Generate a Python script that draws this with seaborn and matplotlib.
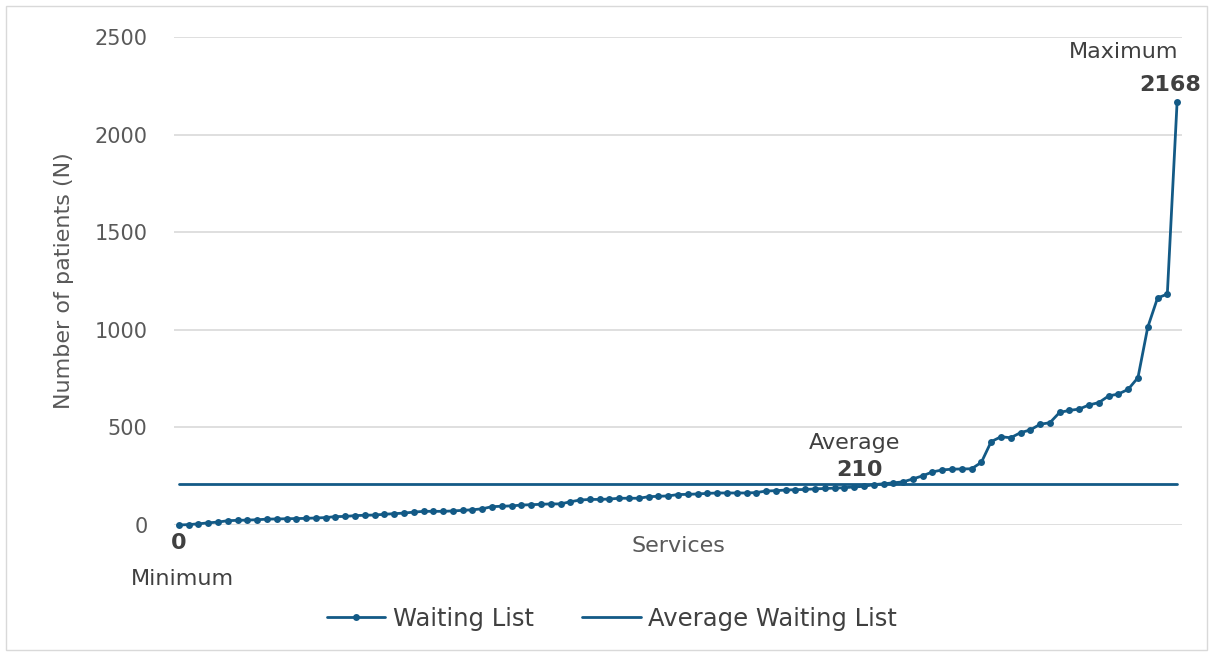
import seaborn as sns
import pandas as pd
import matplotlib.pyplot as plt
import numpy as np
from matplotlib.patches import Rectangle

# waiting list per service, sorted ascending
waiting_list = [
    0, 2, 6, 11, 15, 22, 24, 25, 27, 30, 31, 32, 33, 34, 36, 38, 43, 44, 48, 50, 51,
    55, 58, 61, 66, 70, 70, 70, 72, 75, 78, 83, 94, 96, 98, 102, 104, 106, 108, 108,
    119, 128, 131, 131, 133, 137, 137, 137, 145, 147, 149, 156, 157, 159, 162, 164,
    164, 164, 164, 166, 174, 176,
    179, 181, 182, 185, 187, 189, 191, 195, 198, 207, 211, 216, 221, 236, 252, 272,
    282, 286, 287, 288, 321, 427, 452, 447, 473, 487, 516, 524, 577, 587, 594, 615,
    627, 661, 671, 695, 755, 1013, 1163, 1183, 2168,
]
average_value = 210
y_ticks = [0, 500, 1000, 1500, 2000, 2500]

services = np.arange(len(waiting_list))
df = pd.DataFrame({"Service": services,
                   "Waiting List": waiting_list,
                   "Average Waiting List": average_value})

blue = "#135a86"
text_col = "#404040"

sns.set_style("white")
plt.rcParams["font.family"] = ["DejaVu Sans"]

fig = plt.figure(figsize=(12.1, 6.55), dpi=100)
ax = fig.add_axes([174 / 1210, 1 - 525 / 655, (1182 - 174) / 1210, (525 - 37) / 655])

sns.lineplot(data=df, x="Service", y="Waiting List", ax=ax, color=blue,
             marker="o", markersize=5, markeredgewidth=0, linewidth=2,
             label="Waiting List", clip_on=False, zorder=3)
sns.lineplot(data=df, x="Service", y="Average Waiting List", ax=ax, color=blue,
             linewidth=2, label="Average Waiting List", zorder=2)

ax.set_xlim(-0.5, len(waiting_list) - 0.5)
ax.set_ylim(0, 2500)
ax.set_yticks(y_ticks)
ax.set_xticks([])
ax.tick_params(axis="y", labelsize=15, labelcolor="#595959", length=0, pad=19)
ax.yaxis.grid(True, color="#d9d9d9", linewidth=1.2)
ax.set_axisbelow(True)
for s in ax.spines.values():
    s.set_visible(False)

ax.set_xlabel("Services", fontsize=16, color="#595959", labelpad=8)
ax.set_ylabel("Number of patients (N)", fontsize=16, color="#595959", labelpad=15)

# data labels
i_min = int(np.argmin(waiting_list))
i_max = int(np.argmax(waiting_list))
ax.annotate(str(waiting_list[i_min]), (i_min, waiting_list[i_min]), xytext=(0, -18),
            textcoords="offset pixels", ha="center", va="center",
            fontsize=16, fontweight="bold", color=text_col)
ax.annotate("Minimum", (i_min, waiting_list[i_min]), xytext=(4, -54),
            textcoords="offset pixels", ha="center", va="center",
            fontsize=16, color=text_col)
ax.annotate(str(average_value), (69.5, average_value), xytext=(0, 14),
            textcoords="offset pixels", ha="center", va="center",
            fontsize=16, fontweight="bold", color=text_col)
ax.annotate("Average", (69.5, average_value), xytext=(-5, 41),
            textcoords="offset pixels", ha="center", va="center",
            fontsize=16, color=text_col)
ax.annotate(str(waiting_list[i_max]), (i_max, waiting_list[i_max]), xytext=(-7, 17),
            textcoords="offset pixels", ha="center", va="center",
            fontsize=16, fontweight="bold", color=text_col)
ax.annotate("Maximum", (i_max, waiting_list[i_max]), xytext=(-53, 50),
            textcoords="offset pixels", ha="center", va="center",
            fontsize=16, color=text_col)

ax.legend_.remove()
h, l = ax.get_legend_handles_labels()
fig.legend(h, l, loc="center", bbox_to_anchor=(612 / 1210, 1 - 619 / 655),
           ncol=2, frameon=False, fontsize=17.5, handlelength=2.4,
           handletextpad=0.3, columnspacing=2.0, labelcolor=text_col)

fig.patches.append(Rectangle((6 / 1210, 5 / 655), 1201 / 1210, 644 / 655,
                             transform=fig.transFigure, fill=False,
                             edgecolor="#d9d9d9", linewidth=1))

fig.savefig("out.png", dpi=100)
